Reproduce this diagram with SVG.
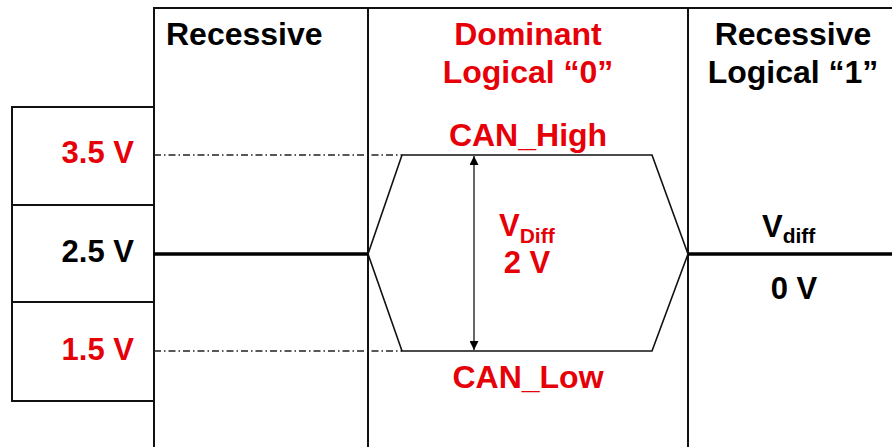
<svg xmlns="http://www.w3.org/2000/svg" width="892" height="447" viewBox="0 0 892 447">
  <style>
    .frame { fill: none; stroke: #111; stroke-width: 2; }
    .sig { fill: none; stroke: #111; stroke-width: 1.6; }
    .bus { fill: none; stroke: #000; stroke-width: 3.5; }
    .ref { fill: none; stroke: #222; stroke-width: 1.3; stroke-dasharray: 7 3 1.5 3; }
    .t { font-family: "Liberation Sans", Arial, sans-serif; font-weight: bold; }
    .h { font-size: 32px; }
    .v { font-size: 31px; }
    .sub { font-size: 21px; }
    .red { fill: #e60008; }
    .blk { fill: #000; }
  </style>
  <defs>
    <marker id="tip" viewBox="0 0 10 10" refX="10" refY="5" markerWidth="9" markerHeight="9" markerUnits="userSpaceOnUse" orient="auto">
      <path d="M0,0 L10,5 L0,10 z" fill="#000"/>
    </marker>
  </defs>

  <rect width="892" height="447" fill="#fff"/>

  <!-- timing grid -->
  <g id="grid">
    <polyline class="frame" points="154,447 154,8 892,8"/>
    <line class="frame" x1="368" y1="8" x2="368" y2="447"/>
    <line class="frame" x1="688" y1="8" x2="688" y2="447"/>
  </g>

  <!-- voltage level scale -->
  <g id="scale">
    <rect class="frame" x="12" y="107" width="142" height="294"/>
    <line class="frame" x1="12" y1="205" x2="154" y2="205"/>
    <line class="frame" x1="12" y1="302" x2="154" y2="302"/>
    <text class="t v red" x="134" y="163" text-anchor="end">3.5 V</text>
    <text class="t v blk" x="134" y="262" text-anchor="end">2.5 V</text>
    <text class="t v red" x="134" y="360" text-anchor="end">1.5 V</text>
  </g>

  <!-- state headers -->
  <g id="hdr-recessive">
    <text class="t h blk" x="166" y="45">Recessive</text>
  </g>
  <g id="hdr-dominant">
    <text class="t h red" x="528" y="45" text-anchor="middle">Dominant</text>
    <text class="t h red" x="528" y="83" text-anchor="middle">Logical “0”</text>
  </g>
  <g id="hdr-recessive-1">
    <text class="t h blk" x="793" y="45" text-anchor="middle">Recessive</text>
    <text class="t h blk" x="793" y="83" text-anchor="middle">Logical “1”</text>
  </g>

  <!-- connectors: bus waveforms -->
  <g id="connectors">
    <line class="ref" x1="154" y1="155" x2="402" y2="155"/>
    <line class="ref" x1="154" y1="351" x2="402" y2="351"/>
    <line class="bus" x1="154" y1="254" x2="368" y2="254"/>
    <line class="bus" x1="688" y1="254" x2="892" y2="254"/>
    <polyline class="sig" points="368,254 402,155 652,155 688,254"/>
    <polyline class="sig" points="368,254 402,351 652,351 688,254"/>
    <line x1="474" y1="200" x2="474" y2="156" stroke="#000" stroke-width="1.2" marker-end="url(#tip)"/>
    <line x1="474" y1="200" x2="474" y2="350" stroke="#000" stroke-width="1.2" marker-end="url(#tip)"/>
  </g>

  <!-- signal labels -->
  <g id="can-high">
    <text class="t h red" x="528" y="146" text-anchor="middle">CAN_High</text>
  </g>
  <g id="can-low">
    <text class="t h red" x="528" y="388" text-anchor="middle">CAN_Low</text>
  </g>
  <g id="vdiff-dominant">
    <text class="t red" x="499" y="236"><tspan class="v">V</tspan><tspan class="sub" dy="7">Diff</tspan></text>
    <text class="t v red" x="527" y="273" text-anchor="middle">2 V</text>
  </g>
  <g id="vdiff-recessive">
    <text class="t blk" x="762" y="237"><tspan class="v">V</tspan><tspan class="sub" dy="6">diff</tspan></text>
    <text class="t v blk" x="794" y="299" text-anchor="middle">0 V</text>
  </g>
</svg>
